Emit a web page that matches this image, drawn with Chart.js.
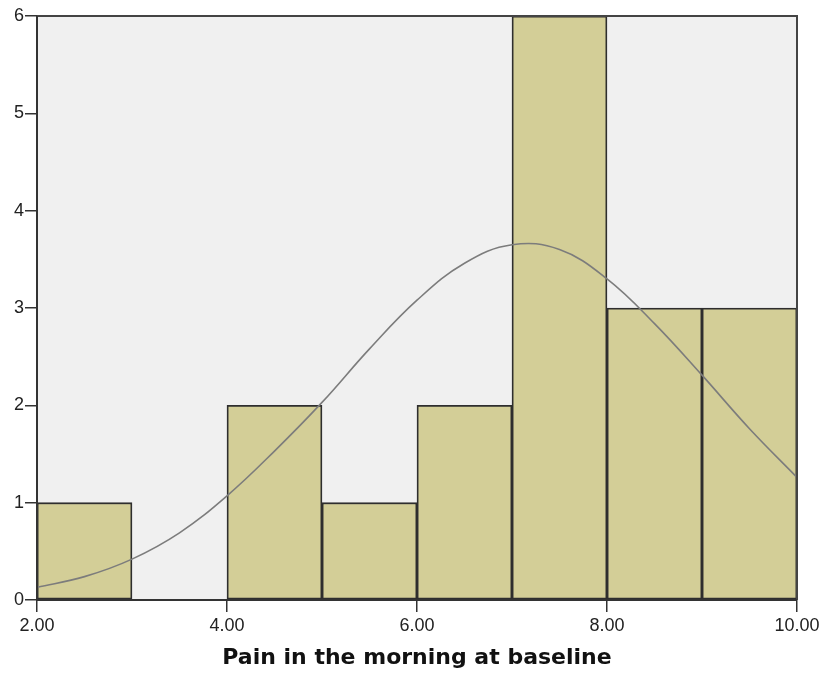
<!DOCTYPE html>
<html>
<head>
<meta charset="utf-8">
<script src="https://cdn.jsdelivr.net/npm/chart.js@4/dist/chart.umd.min.js"></script>
<style>
  html, body { margin: 0; padding: 0; background: #ffffff; }
  #wrap { width: 825px; height: 674px; }
</style>
</head>
<body>
<div id="wrap"><canvas id="c" width="825" height="674"></canvas></div>
<script>
// Histogram bins (lower edge, width 1) and their frequencies
const binStarts = [2, 3, 4, 5, 6, 7, 8, 9];
const binCounts = [1, 0, 2, 1, 2, 6, 3, 3];

// Fitted normal curve, sampled along the x axis
const curveX = [2.0, 2.5, 3.0, 3.5, 4.0, 4.5, 5.0, 5.5, 6.0, 6.5, 7.0, 7.5, 8.0, 8.5, 9.0, 9.5, 10.0];
const curveY = [0.13, 0.24, 0.42, 0.69, 1.07, 1.53, 2.03, 2.58, 3.08, 3.46, 3.65, 3.60, 3.30, 2.84, 2.31, 1.76, 1.26];

// Axis ticks
const xTicks = [2, 4, 6, 8, 10];
const yTicks = [0, 1, 2, 3, 4, 5, 6];
const xTitle = 'Pain in the morning at baseline';

const barData = binStarts
  .map((s, i) => ({ x: s + 0.5, y: binCounts[i] }))
  .filter(d => d.y > 0);
const lineData = curveX.map((x, i) => ({ x: x, y: curveY[i] }));

const frame = {
  id: 'frame',
  beforeDraw(chart) {
    const { ctx, chartArea: a } = chart;
    ctx.save();
    ctx.fillStyle = '#f0f0f0';
    ctx.fillRect(a.left, a.top, a.right - a.left, a.bottom - a.top);
    ctx.restore();
  },
  afterDraw(chart) {
    const { ctx, chartArea: a } = chart;
    ctx.save();
    ctx.strokeStyle = '#444444';
    ctx.lineWidth = 2;
    ctx.beginPath();
    ctx.moveTo(a.left, a.top);
    ctx.lineTo(a.right, a.top);
    ctx.lineTo(a.right, a.bottom);
    ctx.stroke();
    ctx.strokeStyle = '#333333';
    ctx.beginPath();
    ctx.moveTo(a.left, a.top);
    ctx.lineTo(a.left, a.bottom);
    ctx.lineTo(a.right, a.bottom);
    ctx.stroke();
    ctx.restore();
  }
};

new Chart(document.getElementById('c'), {
  type: 'bar',
  data: {
    datasets: [
      {
        type: 'line',
        data: lineData,
        borderColor: '#7c7c7c',
        borderWidth: 1.6,
        pointRadius: 0,
        tension: 0.4,
        order: 1
      },
      {
        type: 'bar',
        data: barData,
        backgroundColor: '#d3ce97',
        borderColor: '#2e2e2e',
        borderWidth: 1.8,
        borderSkipped: false,
        barPercentage: 1,
        categoryPercentage: 1,
        order: 2
      }
    ]
  },
  options: {
    responsive: false,
    animation: false,
    layout: { padding: { top: 16, right: 28, left: 0, bottom: 0 } },
    plugins: { legend: { display: false }, tooltip: { enabled: false } },
    scales: {
      x: {
        type: 'linear',
        offset: false,
        min: 2,
        max: 10,
        afterBuildTicks(scale) { scale.ticks = xTicks.map(v => ({ value: v })); },
        ticks: {
          callback: v => v.toFixed(2),
          color: '#222222',
          font: { family: 'Liberation Sans', size: 18 },
          padding: 3,
          maxRotation: 0
        },
        grid: { drawOnChartArea: false, drawTicks: true, tickLength: 12, color: '#333333', lineWidth: 1.5, offset: false },
        border: { display: false },
        title: {
          display: true,
          text: xTitle,
          color: '#111111',
          font: { family: 'DejaVu Sans', size: 22, weight: 'bold' },
          padding: { top: 0, bottom: 3 }
        },
        afterFit(scale) { scale.height = 74; }
      },
      y: {
        min: 0,
        max: 6,
        afterBuildTicks(scale) { scale.ticks = yTicks.map(v => ({ value: v })); },
        ticks: {
          color: '#222222',
          font: { family: 'Liberation Sans', size: 18 },
          padding: 1
        },
        grid: { drawOnChartArea: false, drawTicks: true, tickLength: 12, color: '#333333', lineWidth: 1.5 },
        border: { display: false },
        afterFit(scale) { scale.width = 37; }
      }
    }
  },
  plugins: [frame]
});
</script>
</body>
</html>
